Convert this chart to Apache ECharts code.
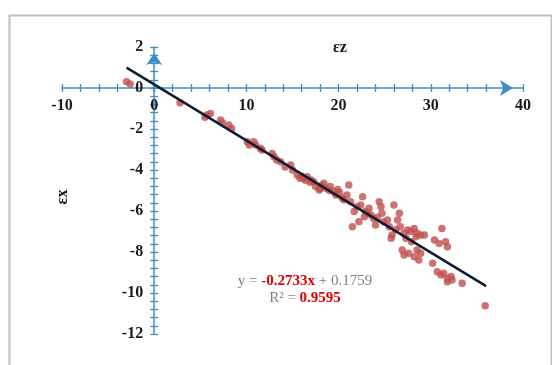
<!DOCTYPE html>
<html>
<head>
<meta charset="utf-8">
<script src="https://cdn.jsdelivr.net/npm/echarts@6/dist/echarts.min.js"></script>
<style>
html,body{margin:0;padding:0;background:#fff;}
#chart{width:552px;height:365px;}
</style>
</head>
<body>
<div id="chart"></div>
<script>
// ---- data ----
const epsZ = [-3.0,-2.6,2.8,5.5,5.7,6.1,7.2,7.4,8.1,8.4,10.1,10.3,10.8,11.0,11.5,11.7,12.8,13.0,13.3,13.7,14.8,15.0,15.5,15.8,
  16.0,16.2,16.6,16.9,17.0,17.3,17.5,17.9,18.1,18.4,18.6,19.0,19.1,19.5,19.7,19.9,20.1,20.4,20.9,21.1,21.3,21.7,22.0,22.4,22.6,22.8,22.9,21.5,22.2,
  23.3,23.5,23.8,24.0,24.4,24.6,24.7,24.9,25.3,25.5,26.0,26.6,26.4,26.7,27.1,27.3,25.7,25.8,27.5,27.8,27.9,28.2,28.5,28.4,28.9,29.3,
  26.9,27.1,27.6,28.2,28.5,28.7,28.9,30.2,30.4,30.9,31.2,31.6,31.8,30.7,31.1,31.4,31.8,32.2,32.3,31.8,33.4,35.9,
  14.2,16.4,18.0,20.6,23.1,24.2,26.2];
const epsX = [0.31,0.2,-0.72,-1.43,-1.32,-1.24,-1.56,-1.69,-1.8,-1.97,-2.62,-2.78,-2.62,-2.78,-2.94,-3.02,-3.19,-3.35,-3.51,-3.6,-3.76,-4.0,-4.24,-4.4,
  -4.3,-4.4,-4.33,-4.6,-4.49,-4.57,-4.81,-4.98,-4.75,-4.65,-4.89,-5.0,-4.81,-5.06,-5.22,-4.95,-5.1,-5.38,-5.22,-4.73,-5.55,-6.03,-5.79,-5.71,-5.3,-6.28,-6.03,-6.77,-6.52,
  -5.87,-6.2,-6.36,-6.68,-5.55,-5.79,-6.11,-6.52,-6.44,-6.77,-5.71,-6.11,-6.44,-6.77,-7.09,-7.33,-7.33,-7.17,-6.93,-7.0,-7.5,-6.85,-7.09,-7.25,-7.17,-7.17,
  -7.9,-8.15,-8.06,-8.23,-7.9,-8.39,-8.06,-8.55,-7.41,-7.58,-6.85,-7.5,-7.74,-8.96,-9.12,-9.04,-9.28,-9.2,-9.37,-9.45,-9.53,-10.62,
  -3.85,-4.5,-4.9,-5.45,-6.1,-6.3,-6.9];
const trendSlope = -0.2733;
const trendIntercept = 0.1759;
const rSquared = 0.9595;
const trendRange = [-3, 36];
const xTicks = {min: -10, max: 40, interval: 10};
const yTicks = {min: -12, max: 2, interval: 2};

// ---- chart ----
const points = epsZ.map((v, i) => [v, epsX[i]]);
const trend = trendRange.map(x => [x, trendSlope * x + trendIntercept]);

const W = 552, H = 365;
const G = {left: 62, right: 29, top: 47, bottom: 31};
const plotW = W - G.left - G.right, plotH = H - G.top - G.bottom;
// pixel distance from grid edges to the zero lines (axes cross at origin)
const zeroFromLeft = (0 - xTicks.min) / (xTicks.max - xTicks.min) * plotW;
const zeroFromTop = (yTicks.max - 0) / (yTicks.max - yTicks.min) * plotH;

const axisColor = '#3f8dc5';
const labelFont = {fontFamily: 'Liberation Serif', fontWeight: 'bold', fontSize: 16, color: '#1a1a1a'};
const tickStyle = {color: axisColor, width: 1.3};

const chart = echarts.init(document.getElementById('chart'));
chart.setOption({
  animation: false,
  backgroundColor: '#fff',
  grid: G,
  xAxis: [{
    type: 'value', min: xTicks.min, max: xTicks.max, interval: xTicks.interval,
    position: 'bottom', offset: -(plotH - zeroFromTop),
    axisLine: {onZero: false, lineStyle: {color: axisColor, width: 1.5}, symbol: ['none', 'arrow'], symbolSize: [12, 13], symbolOffset: [0, -10]},
    axisTick: {show: true, inside: false, length: 4, lineStyle: tickStyle},
    minorTick: {show: true, splitNumber: 5, length: 4, lineStyle: tickStyle},
    axisLabel: Object.assign({margin: 10}, labelFont),
    splitLine: {show: false}, minorSplitLine: {show: false}
  }, {
    type: 'value', min: xTicks.min, max: xTicks.max, interval: xTicks.interval,
    position: 'top', offset: -zeroFromTop,
    axisLine: {show: false, onZero: false},
    axisTick: {show: true, length: 4, lineStyle: tickStyle},
    minorTick: {show: true, splitNumber: 5, length: 4, lineStyle: tickStyle},
    axisLabel: {show: false},
    splitLine: {show: false}
  }],
  yAxis: [{
    type: 'value', min: yTicks.min, max: yTicks.max, interval: yTicks.interval,
    position: 'left', offset: -zeroFromLeft,
    axisLine: {onZero: false, lineStyle: {color: axisColor, width: 1.5}, symbol: ['none', 'arrow'], symbolSize: [12, 12], symbolOffset: [0, -6]},
    axisTick: {show: true, inside: false, length: 4, lineStyle: tickStyle},
    minorTick: {show: true, splitNumber: 5, length: 4, lineStyle: tickStyle},
    axisLabel: Object.assign({margin: 11}, labelFont),
    splitLine: {show: false}, minorSplitLine: {show: false}
  }, {
    type: 'value', min: yTicks.min, max: yTicks.max, interval: yTicks.interval,
    position: 'right', offset: -(plotW - zeroFromLeft),
    axisLine: {show: false, onZero: false},
    axisTick: {show: true, length: 4, lineStyle: tickStyle},
    minorTick: {show: true, splitNumber: 5, length: 4, lineStyle: tickStyle},
    axisLabel: {show: false},
    splitLine: {show: false}
  }],
  series: [{
    type: 'scatter', xAxisIndex: 0, yAxisIndex: 0,
    data: points, symbolSize: 7.5,
    itemStyle: {color: '#c0504d'}, z: 3
  }, {
    type: 'line', xAxisIndex: 0, yAxisIndex: 0,
    data: trend, symbol: 'none',
    lineStyle: {color: '#0f1d33', width: 2.5}, z: 4
  }],
  graphic: [{
    type: 'rect', left: 7, top: 13, silent: true,
    shape: {width: 542, height: 400},
    style: {fill: 'none', stroke: '#c0c0c0', lineWidth: 2}
  }, {
    type: 'text', x: 340, y: 48,
    style: {text: 'εz', fill: '#1a1a1a', font: 'bold 16px "Liberation Serif"', textAlign: 'center', textVerticalAlign: 'middle'}
  }, {
    type: 'text', x: 63, y: 197, rotation: Math.PI / 2,
    style: {text: 'εx', fill: '#1a1a1a', font: 'bold 16px "Liberation Serif"', textAlign: 'center', textVerticalAlign: 'middle'}
  }, {
    type: 'text', x: 305, y: 281,
    style: {
      text: '{g|y = }{r|' + trendSlope.toFixed(4) + 'x}{g| + ' + trendIntercept.toFixed(4) + '}',
      textAlign: 'center', textVerticalAlign: 'middle',
      rich: {
        g: {fontFamily: 'Liberation Serif', fontSize: 15, fill: '#808080'},
        r: {fontFamily: 'Liberation Serif', fontSize: 15, fontWeight: 'bold', fill: '#e00000'}
      }
    }
  }, {
    type: 'text', x: 305, y: 298,
    style: {
      text: '{g|R² = }{r|' + rSquared.toFixed(4) + '}',
      textAlign: 'center', textVerticalAlign: 'middle',
      rich: {
        g: {fontFamily: 'Liberation Serif', fontSize: 15, fill: '#808080'},
        r: {fontFamily: 'Liberation Serif', fontSize: 15, fontWeight: 'bold', fill: '#e00000'}
      }
    }
  }]
});
</script>
</body>
</html>
